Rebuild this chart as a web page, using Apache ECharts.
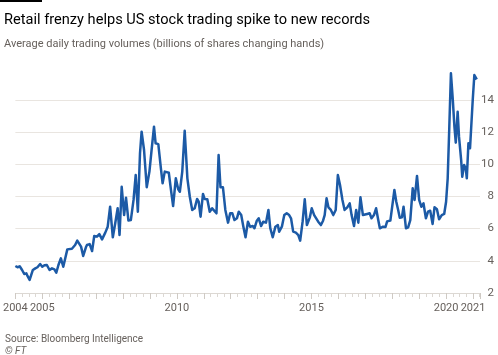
<!DOCTYPE html>
<html>
<head>
<meta charset="utf-8">
<script src="https://cdn.jsdelivr.net/npm/echarts@6/dist/echarts.min.js"></script>
<style>
html,body{margin:0;padding:0;background:#fff;}
#chart{width:498px;height:355px;}
</style>
</head>
<body>
<div id="chart"></div>
<script>
// Decimal-year dates of readings and daily trading volume (bn shares)
const dates = [
2004.00,2004.08,2004.16,2004.25,2004.33,2004.41,2004.45,2004.53,2004.65,2004.74,2004.82,2004.92,
2005.00,2005.08,2005.17,2005.27,2005.36,2005.45,2005.52,2005.60,2005.69,2005.78,2005.93,
2006.10,2006.22,2006.30,2006.37,2006.44,2006.52,2006.62,2006.66,2006.76,2006.85,2006.93,
2007.03,2007.12,2007.22,2007.34,2007.43,2007.52,2007.62,2007.71,2007.80,2007.87,2007.95,
2008.04,2008.11,2008.20,2008.29,2008.39,2008.47,2008.55,2008.63,2008.69,2008.78,2008.88,2008.98,
2009.06,2009.15,2009.21,2009.31,2009.40,2009.47,2009.55,2009.62,2009.70,2009.78,2009.86,2009.96,
2010.05,2010.11,2010.20,2010.29,2010.39,2010.48,2010.57,2010.66,2010.75,2010.81,2010.88,2010.97,
2011.03,2011.13,2011.22,2011.31,2011.38,2011.47,2011.55,2011.62,2011.71,2011.80,2011.90,2011.98,
2012.06,2012.14,2012.23,2012.30,2012.39,2012.47,2012.55,2012.64,2012.72,2012.82,2012.88,2012.97,
2013.04,2013.13,2013.21,2013.31,2013.40,2013.47,2013.56,2013.66,2013.75,2013.80,2013.90,2013.99,
2014.08,2014.17,2014.24,2014.32,2014.42,2014.51,2014.58,2014.67,2014.75,2014.83,2014.94,
2015.01,2015.10,2015.16,2015.25,2015.35,2015.43,2015.49,2015.56,2015.63,2015.72,2015.81,2015.90,2015.98,
2016.06,2016.15,2016.23,2016.33,2016.42,2016.49,2016.58,2016.66,2016.74,2016.82,2016.91,2016.98,
2017.07,2017.16,2017.23,2017.32,2017.40,2017.48,2017.54,2017.60,2017.66,2017.75,2017.81,2017.87,2017.93,
2018.00,2018.08,2018.15,2018.22,2018.28,2018.36,2018.42,2018.51,2018.59,2018.67,2018.76,2018.83,2018.92,
2019.00,2019.08,2019.16,2019.25,2019.33,2019.41,2019.50,2019.57,2019.66,2019.74,2019.84,2019.93,
2020.00,2020.06,2020.12,2020.18,2020.25,2020.31,2020.36,2020.43,2020.48,2020.56,2020.60,2020.67,2020.73,2020.77,2020.83,2020.89,2020.93,2020.99,
2021.05,2021.14
];
const volumes = [
3.68,3.60,3.66,3.43,3.18,3.22,3.06,2.81,3.43,3.53,3.60,3.80,
3.63,3.72,3.74,3.43,3.53,3.47,3.26,3.74,4.15,3.63,4.71,
4.75,4.98,5.25,5.25,4.88,4.30,4.84,4.98,5.04,4.61,5.54,
5.50,5.66,5.33,5.75,6.12,7.36,5.46,6.33,7.26,5.60,8.60,
6.84,7.92,6.50,6.53,7.78,9.33,7.05,10.68,12.02,10.88,8.57,9.54,
10.88,12.33,11.30,11.25,9.84,8.81,9.54,9.64,9.47,8.40,7.40,9.12,
8.44,8.29,9.54,12.08,9.12,7.98,7.16,7.26,7.84,7.67,6.74,8.15,
7.84,7.82,7.05,7.26,7.26,6.95,10.57,8.57,8.57,7.16,6.37,6.95,
6.95,6.53,6.64,7.05,6.84,6.12,5.46,6.43,6.12,6.16,6.02,6.49,
6.64,6.16,6.43,6.37,7.16,6.02,5.46,6.12,6.22,5.81,6.12,6.84,
6.95,6.84,6.64,5.81,5.75,5.60,5.25,6.43,7.82,6.22,6.70,
7.26,6.84,6.74,6.43,6.22,6.49,6.84,7.88,7.32,7.16,6.84,7.16,9.33,
8.71,7.78,7.16,7.32,7.57,6.84,6.16,7.16,6.37,7.94,6.84,6.95,
6.91,6.95,6.64,6.84,7.26,6.53,6.02,5.96,6.12,6.10,6.45,6.45,6.50,
6.53,8.40,7.67,7.16,6.68,6.70,7.36,6.02,6.08,6.53,8.50,7.78,9.27,
7.78,7.36,7.57,6.64,7.05,7.11,6.29,7.32,7.20,6.58,6.84,6.91,
7.67,9.12,12.33,15.65,13.99,12.33,11.34,13.26,11.71,10.26,9.22,9.95,9.75,9.12,11.30,10.99,11.09,13.99,
15.54,15.27
];
const xTickLabels = [2004, 2005, 2010, 2015, 2020, 2021];
const yTicks = [2, 4, 6, 8, 10, 12, 14];

const seriesData = dates.map((d, i) => [d, volumes[i]]);
const grey = '#66605c';
const gridCol = '#e9e5e0';
const font = 'Roboto';

const chart = echarts.init(document.getElementById('chart'), null, {renderer: 'canvas'});
chart.setOption({
  backgroundColor: '#ffffff',
  animation: false,
  textStyle: {fontFamily: font},
  title: [
    {text: 'Retail frenzy helps US stock trading spike to new records', left: -1, top: 8,
     textStyle: {fontSize: 14.6, fontWeight: 'normal', color: '#000000', fontFamily: font}},
    {text: 'Average daily trading volumes (billions of shares changing hands)', left: -1, top: 34,
     textStyle: {fontSize: 11, fontWeight: 'normal', color: grey, fontFamily: font}},
    {text: 'Source: Bloomberg Intelligence', left: 0, top: 329,
     textStyle: {fontSize: 10, fontWeight: 'normal', color: grey, fontFamily: font}},
    {text: '© FT', left: 0, top: 341,
     textStyle: {fontSize: 10, fontWeight: 'normal', fontStyle: 'italic', color: grey, fontFamily: font}}
  ],
  graphic: [{type: 'rect', left: 0, top: 0, shape: {width: 42, height: 2}, style: {fill: '#000'}}],
  grid: {left: 13, right: 18, top: 67.6, bottom: 62, containLabel: false},
  xAxis: {
    type: 'value', min: 2004, max: 2021.26, interval: 1,
    axisLine: {show: true, lineStyle: {color: '#dcd8d3', width: 1}},
    axisTick: {show: true, length: 6, lineStyle: {color: '#cfcac4'}},
    minorTick: {show: true, splitNumber: 4, length: 4, lineStyle: {color: '#dcd8d3'}},
    splitLine: {show: false},
    axisLabel: {
      margin: 10, fontSize: 11, color: grey, fontFamily: font,
      showMaxLabel: false,
      formatter: v => xTickLabels.includes(Math.round(v)) && Math.abs(v - Math.round(v)) < 1e-6 ? String(Math.round(v)) : ''
    }
  },
  yAxis: {
    type: 'value', position: 'right', min: 2, max: 16, interval: 2,
    axisLine: {show: false}, axisTick: {show: false},
    splitLine: {show: true, lineStyle: {color: [gridCol, gridCol, gridCol, gridCol, gridCol, gridCol, gridCol, 'rgba(0,0,0,0)'], width: 1}},
    axisLabel: {
      margin: 14, align: 'right', fontSize: 11.5, color: grey, fontFamily: font,
      formatter: v => yTicks.includes(v) ? String(v) : ''
    }
  },
  series: [{
    type: 'line', data: seriesData, showSymbol: false, symbol: 'none',
    lineStyle: {color: '#1c5aa6', width: 2.5, join: 'round'},
    z: 3
  }]
});
</script>
</body>
</html>
